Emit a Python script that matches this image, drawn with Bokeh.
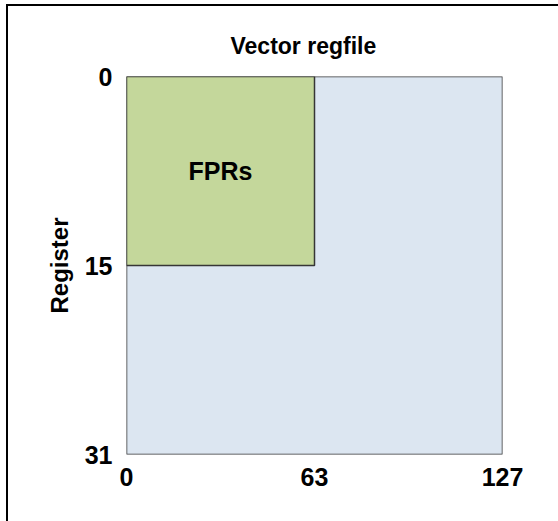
from bokeh.plotting import figure
from bokeh.models import FixedTicker, Range1d, InlineStyleSheet, GlobalInlineStyleSheet
from bokeh.core.properties import value
from bokeh.embed import file_html
from bokeh.resources import INLINE

# Data
total_registers = 32
total_bits = 128
fpr_registers = 16
fpr_bits = 64
x_ticks = [0, 64, 128]
x_tick_labels = ["0", "63", "127"]
y_ticks = [0, 16, 32]
y_tick_labels = ["0", "15", "31"]
region_names = ["Vector regfile", "FPRs"]
region_colors = ["#DCE6F1", "#C4D79B"]

FONT = "Liberation Sans"

p = figure(width=550, height=505, output_backend="svg", toolbar_location=None,
           x_range=Range1d(0, total_bits), y_range=Range1d(total_registers, 0),
           min_border_left=118, min_border_right=56, min_border_top=70, min_border_bottom=57,
           title=region_names[0])
page_css = GlobalInlineStyleSheet(css="""
html, body { overflow: hidden; }
body::before { content: ""; position: fixed; left: 6px; top: 4px; width: 2px; height: 100vh;
               background: black; z-index: 10; }
body::after { content: ""; position: fixed; left: 6px; top: 4px; width: 100vw; height: 2px;
              background: black; z-index: 10; }
""")
p.stylesheets = [page_css, InlineStyleSheet(css=":host { margin-top: 6px; margin-left: 8px; }")]

p.title.align = "left"
p.title.offset = 104
p.title.text_font = FONT
p.title.text_font_size = "23px"
p.title.text_font_style = "bold"
p.title.text_color = "black"
p.title.standoff = 36

p.grid.visible = False
p.outline_line_color = None
p.background_fill_color = "white"
p.border_fill_color = "white"

# whole regfile
p.quad(left=[0], right=[total_bits], top=[0], bottom=[total_registers],
       fill_color=region_colors[0], line_color="#363636", line_width=1.5)
# FPRs
p.quad(left=[0], right=[fpr_bits], top=[0], bottom=[fpr_registers],
       fill_color=region_colors[1], line_color="#363636", line_width=1.5)

p.text(x=[fpr_bits / 2], y=[fpr_registers / 2], text=[region_names[1]],
       text_align="center", text_baseline="middle",
       text_font=value(FONT), text_font_size="25px", text_font_style="bold",
       text_color="black")

for ax in (p.xaxis[0], p.yaxis[0]):
    ax.axis_line_color = None
    ax.major_tick_line_color = None
    ax.minor_tick_line_color = None
    ax.major_label_text_font = FONT
    ax.major_label_text_font_size = "25px"
    ax.major_label_text_font_style = "bold"
    ax.major_label_text_color = "black"

p.xaxis.ticker = FixedTicker(ticks=x_ticks)
p.xaxis.major_label_overrides = {t: l for t, l in zip(x_ticks, x_tick_labels)}
p.xaxis.major_label_standoff = 7

p.yaxis.ticker = FixedTicker(ticks=y_ticks)
p.yaxis.major_label_overrides = {t: l for t, l in zip(y_ticks, y_tick_labels)}
p.yaxis.major_label_standoff = 8
p.yaxis.axis_label = "Register"
p.yaxis.axis_label_text_font = FONT
p.yaxis.axis_label_text_font_size = "24px"
p.yaxis.axis_label_text_font_style = "bold"
p.yaxis.axis_label_text_color = "black"
p.yaxis.axis_label_standoff = 9

open("out.html", "w").write(file_html(p, INLINE))
